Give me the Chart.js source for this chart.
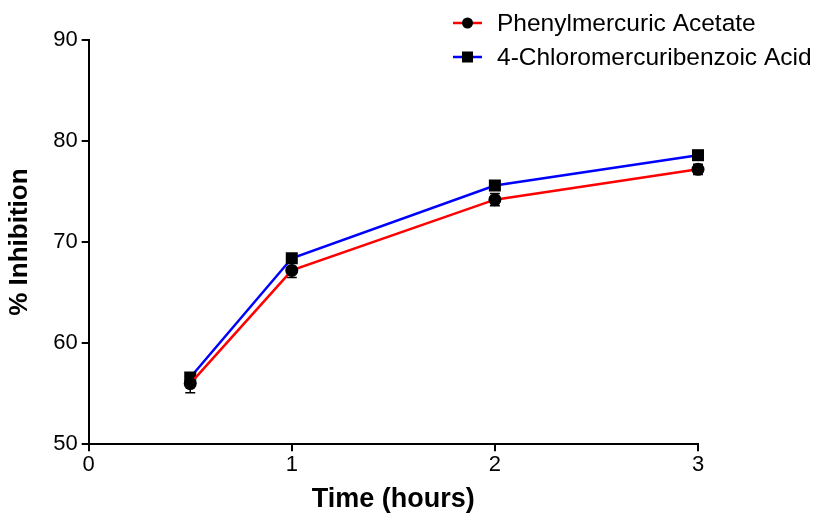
<!DOCTYPE html>
<html>
<head>
<meta charset="utf-8">
<script src="https://cdn.jsdelivr.net/npm/chart.js@4"></script>
<style>
  html, body { margin: 0; padding: 0; background: #fff; }
  #wrap { width: 819px; height: 518px; }
</style>
</head>
<body>
<div id="wrap"><canvas id="chart" width="819" height="518"></canvas></div>
<script>
const times = [0.5, 1, 2, 3];
const xTicks = [0, 1, 2, 3];
const yTicks = [50, 60, 70, 80, 90];

const phenylName = "Phenylmercuric Acetate";
const phenylValues = [56.0, 67.2, 74.2, 77.2];
const phenylErrors = [0.9, 0.7, 0.6, 0.5];

const chloroName = "4-Chloromercuribenzoic Acid";
const chloroValues = [56.6, 68.4, 75.6, 78.6];
const chloroErrors = [0.3, 0.3, 0.3, 0.3];

const FONT = "'Liberation Sans', Arial, sans-serif";

const toPoints = (values) => values.map((y, i) => ({ x: times[i], y }));

// error bars drawn behind markers, through the chart's own scales
const errorBars = {
  id: "errorBars",
  beforeDatasetsDraw(chart) {
    const ctx = chart.ctx;
    const xs = chart.scales.x;
    const ys = chart.scales.y;
    ctx.save();
    ctx.strokeStyle = "#000";
    ctx.lineWidth = 1.5;
    chart.data.datasets.forEach((ds) => {
      ds.data.forEach((p, i) => {
        const e = ds.errors[i];
        const px = xs.getPixelForValue(p.x);
        const top = ys.getPixelForValue(p.y + e);
        const bot = ys.getPixelForValue(p.y - e);
        ctx.beginPath();
        ctx.moveTo(px, top);
        ctx.lineTo(px, bot);
        ctx.moveTo(px - 5, top);
        ctx.lineTo(px + 5, top);
        ctx.moveTo(px - 5, bot);
        ctx.lineTo(px + 5, bot);
        ctx.stroke();
      });
    });
    ctx.restore();
  },
};

// legend with line + marker, like the original
const lineLegend = {
  id: "lineLegend",
  afterDraw(chart) {
    const ctx = chart.ctx;
    ctx.save();
    ctx.font = "24.5px " + FONT;
    ctx.textBaseline = "middle";
    chart.data.datasets.forEach((ds, i) => {
      const y = 23 + i * 34;
      const x0 = 453;
      ctx.strokeStyle = ds.borderColor;
      ctx.lineWidth = 2.5;
      ctx.beginPath();
      ctx.moveTo(x0, y);
      ctx.lineTo(x0 + 29, y);
      ctx.stroke();
      ctx.fillStyle = "#000";
      if (ds.pointStyle === "rect") {
        ctx.fillRect(x0 + 9, y - 5.5, 11, 11);
      } else {
        ctx.beginPath();
        ctx.arc(x0 + 14.5, y, 5.5, 0, Math.PI * 2);
        ctx.fill();
      }
      ctx.fillText(ds.label, x0 + 44, y + 1);
    });
    ctx.restore();
  },
};

const config = {
  type: "line",
  data: {
    datasets: [
      {
        label: phenylName,
        data: toPoints(phenylValues),
        errors: phenylErrors,
        borderColor: "#ff0000",
        borderWidth: 2.5,
        pointStyle: "circle",
        pointRadius: 6.5,
        pointBackgroundColor: "#000",
        pointBorderColor: "#000",
        pointBorderWidth: 0,
        tension: 0,
        clip: false,
      },
      {
        label: chloroName,
        data: toPoints(chloroValues),
        errors: chloroErrors,
        borderColor: "#0000ff",
        borderWidth: 2.5,
        pointStyle: "rect",
        pointRadius: 8.5,
        pointBackgroundColor: "#000",
        pointBorderColor: "#000",
        pointBorderWidth: 0,
        tension: 0,
        clip: false,
      },
    ],
  },
  options: {
    responsive: false,
    animation: false,
    layout: { padding: { top: 40, right: 121, left: 4, bottom: 2 } },
    plugins: {
      legend: { display: false },
      tooltip: { enabled: false },
    },
    scales: {
      x: {
        type: "linear",
        min: 0,
        max: 3,
        afterBuildTicks: (axis) => { axis.ticks = xTicks.map((v) => ({ value: v })); },
        border: { color: "#000", width: 2 },
        grid: { drawOnChartArea: false, drawTicks: true, tickLength: 7, color: "#000", lineWidth: 2 },
        ticks: { color: "#000", padding: 1, font: { family: FONT, size: 22 } },
        title: {
          display: true,
          text: "Time (hours)",
          color: "#000",
          padding: { top: 4, bottom: 0 },
          font: { family: FONT, size: 27, weight: "bold" },
        },
      },
      y: {
        min: 50,
        max: 90,
        afterBuildTicks: (axis) => { axis.ticks = yTicks.map((v) => ({ value: v })); },
        border: { color: "#000", width: 2 },
        grid: { drawOnChartArea: false, drawTicks: true, tickLength: 7, color: "#000", lineWidth: 2 },
        ticks: { color: "#000", padding: 4, font: { family: FONT, size: 22 } },
        title: {
          display: true,
          text: "% Inhibition",
          color: "#000",
          padding: { top: 0, bottom: 14 },
          font: { family: FONT, size: 26, weight: "bold" },
        },
      },
    },
  },
  plugins: [errorBars, lineLegend],
};

new Chart(document.getElementById("chart"), config);
</script>
</body>
</html>
